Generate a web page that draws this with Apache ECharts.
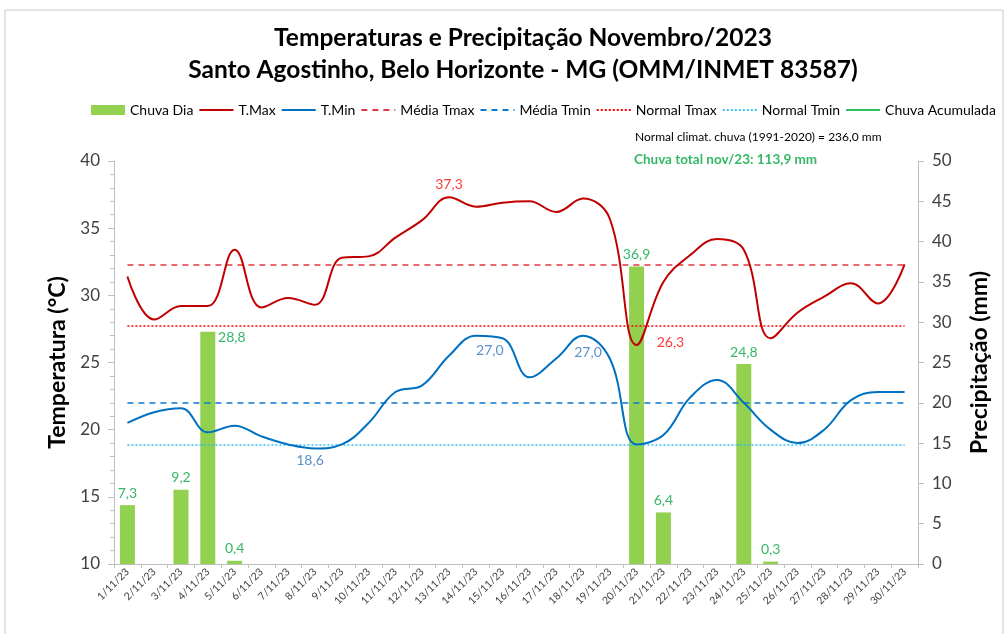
<!DOCTYPE html>
<html>
<head>
<meta charset="utf-8">
<script src="https://cdn.jsdelivr.net/npm/echarts@6/dist/echarts.min.js"></script>
<style>html,body{margin:0;padding:0;background:#fff}#c{width:1008px;height:634px}</style>
</head>
<body>
<div id="c"></div>
<script>
const days = ['1/11/23','2/11/23','3/11/23','4/11/23','5/11/23','6/11/23','7/11/23','8/11/23','9/11/23','10/11/23','11/11/23','12/11/23','13/11/23','14/11/23','15/11/23','16/11/23','17/11/23','18/11/23','19/11/23','20/11/23','21/11/23','22/11/23','23/11/23','24/11/23','25/11/23','26/11/23','27/11/23','28/11/23','29/11/23','30/11/23'];
const chuvaDia = [7.3, null, 9.2, 28.8, 0.4, null, null, null, null, null, null, null, null, null, null, null, null, null, null, 36.9, 6.4, null, null, 24.8, 0.3, null, null, null, null, null];
const tMax = [31.4, 28.2, 29.2, 29.2, 33.4, 29.1, 29.8, 29.3, 32.8, 32.9, 34.3, 35.6, 37.3, 36.6, 36.9, 37.0, 36.2, 37.2, 35.7, 26.3, 31.0, 33.0, 34.2, 33.4, 26.8, 28.7, 29.9, 30.9, 29.4, 32.3];
const tMin = [20.5, 21.3, 21.6, 19.8, 20.3, 19.5, 18.9, 18.6, 18.9, 20.5, 22.8, 23.3, 25.5, 27.0, 26.8, 23.9, 25.3, 27.0, 25.3, 18.9, 19.6, 22.4, 23.7, 22.0, 20.0, 19.0, 20.0, 22.2, 22.8, 22.8];
const chuvaAcumulada = [];
const mediaTmax = 32.3;
const mediaTmin = 22.0;
const normalTmax = 27.7;
const normalTmin = 18.9;
const tempTicks = [10, 40, 5];
const rainTicks = [0, 50, 5];
const normalChuva = '236,0';
const totalChuva = '113,9';

const FONT = 'Lato';
const fmt = v => v.toFixed(1).replace('.', ',');

const GREEN_TXT = '#35B866';
const barLabelCfg = {3: {offset: [24, 18]}};
const barData = chuvaDia.map((v, i) => {
  if (v == null) return '-';
  const o = {value: v, label: {show: true, position: 'top', formatter: fmt(v), color: GREEN_TXT, fontSize: 14, fontFamily: FONT}};
  if (barLabelCfg[i]) Object.assign(o.label, barLabelCfg[i]);
  return o;
});

const maxLabels = {12: {position: 'top', distance: 6}, 19: {position: 'right', distance: 20, offset: [0, -3]}};
const maxData = tMax.map((v, i) => maxLabels[i] ? {value: v, label: Object.assign({show: true, formatter: fmt(v), color: '#FF3B3B', fontSize: 14, fontFamily: FONT}, maxLabels[i])} : v);
const minLabels = {7: {position: 'bottom', offset: [-5, 0]}, 13: {position: 'bottom', offset: [14, 3]}, 17: {position: 'bottom', offset: [5, 5]}};
const minData = tMin.map((v, i) => minLabels[i] ? {value: v, label: Object.assign({show: true, formatter: fmt(v), color: '#5B8FD0', fontSize: 14, fontFamily: FONT}, minLabels[i])} : v);

function refLine(name, val, color, type) {
  return {
    name, type: 'line', data: [], yAxisIndex: 0, symbol: 'none',
    lineStyle: {color, type, width: 1.5}, itemStyle: {color},
    markLine: {silent: true, symbol: 'none', label: {show: false},
      lineStyle: {color, type, width: 1.5},
      data: [[{xAxis: days[0], yAxis: val}, {xAxis: days[days.length - 1], yAxis: val}]]}
  };
}
const noDot = {opacity: 0};

const chart = echarts.init(document.getElementById('c'));
chart.setOption({
  animation: false,
  textStyle: {fontFamily: FONT},
  title: {
    text: 'Temperaturas e Precipitação Novembro/2023\nSanto Agostinho, Belo Horizonte - MG (OMM/INMET 83587)',
    left: 518, textAlign: 'center', top: 17,
    textStyle: {fontFamily: FONT, fontWeight: 'bold', fontSize: 24.5, lineHeight: 32, color: '#000'}
  },
  legend: {
    left: 86, top: 98, itemGap: 5, itemWidth: 34, itemHeight: 10,
    textStyle: {fontFamily: FONT, fontSize: 14, color: '#000'},
    data: [{name: 'Chuva Dia', icon: 'rect'},
      {name: 'T.Max', itemStyle: noDot}, {name: 'T.Min', itemStyle: noDot},
      {name: 'Média Tmax', itemStyle: noDot}, {name: 'Média Tmin', itemStyle: noDot},
      {name: 'Normal Tmax', itemStyle: noDot}, {name: 'Normal Tmin', itemStyle: noDot},
      {name: 'Chuva Acumulada', itemStyle: noDot}]
  },
  graphic: [
    {type: 'rect', shape: {x: 5, y: 10, width: 998, height: 640}, style: {fill: 'none', stroke: '#C8C8C8', lineWidth: 1}, silent: true},
    {type: 'text', left: 635, top: 131, style: {text: 'Normal climat. chuva (1991-2020) = ' + normalChuva + ' mm', font: '12px Lato', fill: '#000'}},
    {type: 'text', left: 634, top: 153, style: {text: 'Chuva total nov/23: ' + totalChuva + ' mm', font: 'bold 13.5px Lato', fill: GREEN_TXT}}
  ],
  grid: {left: 114, right: 90, top: 161, bottom: 70, containLabel: false},
  xAxis: {
    type: 'category', data: days, boundaryGap: true,
    axisLine: {lineStyle: {color: '#BFBFBF', width: 1}},
    axisTick: {show: true, length: 4, lineStyle: {color: '#BFBFBF'}},
    axisLabel: {rotate: 45, interval: 0, fontSize: 10.5, color: '#404040', margin: 6, fontFamily: FONT}
  },
  yAxis: [
    {type: 'value', min: tempTicks[0], max: tempTicks[1], interval: tempTicks[2],
     name: 'Temperatura (°C)', nameLocation: 'middle', nameGap: 42, nameRotate: 90,
     nameTextStyle: {fontFamily: FONT, fontWeight: 'bold', fontSize: 23, color: '#000'},
     axisLine: {show: true, lineStyle: {color: '#BFBFBF'}},
     axisTick: {show: true, length: 6, lineStyle: {color: '#BFBFBF'}},
     minorTick: {show: true, splitNumber: 5, length: 4, lineStyle: {color: '#BFBFBF'}},
     splitLine: {show: false},
     axisLabel: {fontSize: 17, color: '#404040', margin: 14, fontFamily: FONT}},
    {type: 'value', min: rainTicks[0], max: rainTicks[1], interval: rainTicks[2], position: 'right',
     name: 'Precipitação (mm)', nameLocation: 'middle', nameGap: 50, nameRotate: 90,
     nameTextStyle: {fontFamily: FONT, fontWeight: 'bold', fontSize: 23, color: '#000'},
     axisLine: {show: true, lineStyle: {color: '#BFBFBF'}},
     axisTick: {show: true, length: 6, lineStyle: {color: '#BFBFBF'}},
     splitLine: {show: false},
     axisLabel: {fontSize: 17, color: '#404040', margin: 14, fontFamily: FONT}}
  ],
  series: [
    {name: 'Chuva Dia', type: 'bar', yAxisIndex: 1, data: barData, barWidth: 15,
     itemStyle: {color: '#92D050'}},
    {name: 'T.Max', type: 'line', yAxisIndex: 0, data: maxData, smooth: 0.4,
     symbol: 'circle', symbolSize: 0.1, showSymbol: true, showAllSymbol: true,
     lineStyle: {color: '#C00000', width: 2}, itemStyle: {color: '#C00000'}, z: 5},
    {name: 'T.Min', type: 'line', yAxisIndex: 0, data: minData, smooth: 0.4,
     symbol: 'circle', symbolSize: 0.1, showSymbol: true, showAllSymbol: true,
     lineStyle: {color: '#0070C0', width: 2}, itemStyle: {color: '#0070C0'}, z: 5},
    refLine('Média Tmax', mediaTmax, '#E0393E', [6, 5]),
    refLine('Média Tmin', mediaTmin, '#0B78D0', [6, 5]),
    refLine('Normal Tmax', normalTmax, '#FF0000', [2, 2]),
    refLine('Normal Tmin', normalTmin, '#35C0F0', [2, 2]),
    {name: 'Chuva Acumulada', type: 'line', yAxisIndex: 1, data: chuvaAcumulada, symbol: 'none',
     lineStyle: {color: '#2DBE60', width: 2}, itemStyle: {color: '#2DBE60'}}
  ]
});
</script>
</body>
</html>
